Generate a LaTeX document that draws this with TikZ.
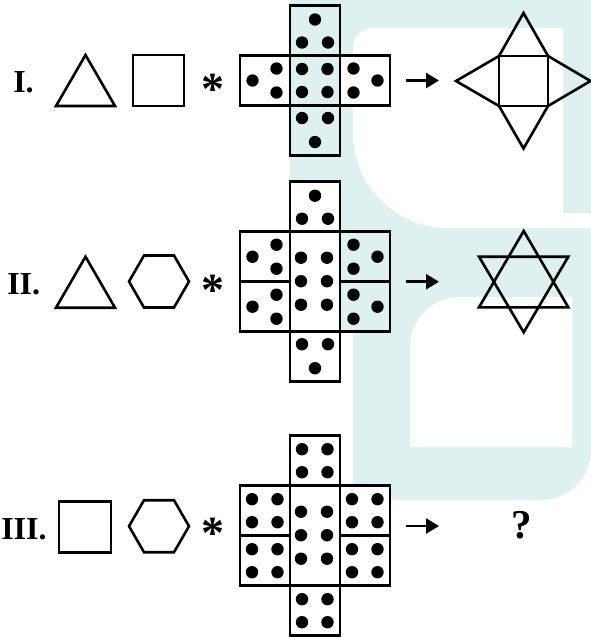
\documentclass[tikz,border=0pt]{standalone}
\usepackage{fontspec}
\setmainfont{Liberation Serif}
\usepackage{tikz}
\usetikzlibrary{arrows.meta,positioning,calc}
\definecolor{wmteal}{RGB}{223,240,240}
\newcommand{\dotsL}[1]{\foreach \dx/\dy in {12.5/25,36.5/13,36.5/37} \fill ($(#1.north west)+(\dx,\dy)$) circle (6.2pt);}
\newcommand{\dotsR}[1]{\foreach \dx/\dy in {13.5/13,13.5/37,37.5/25} \fill ($(#1.north west)+(\dx,\dy)$) circle (6.2pt);}
\newcommand{\dotsU}[1]{\foreach \dx/\dy in {25/14,12/37,38/37} \fill ($(#1.north west)+(\dx,\dy)$) circle (6.2pt);}
\newcommand{\dotsD}[1]{\foreach \dx/\dy in {12/12.5,38/12.5,25/36.5} \fill ($(#1.north west)+(\dx,\dy)$) circle (6.2pt);}
\newcommand{\dotsF}[1]{\foreach \dx/\dy in {12/13.5,37.5/13.5,12/36.5,37.5/36.5} \fill ($(#1.north west)+(\dx,\dy)$) circle (6.2pt);}
\newcommand{\dotsS}[1]{\foreach \dx/\dy in {11/26,37/26,11/49.5,37/49.5,11/73,37/73} \fill ($(#1.north west)+(\dx,\dy)$) circle (6.2pt);}

\begin{document}
\begin{tikzpicture}[x=1pt, y=-1pt, line width=2.6pt]
        \tikzstyle{cell}=[draw, fill=white, minimum size=50pt, inner sep=0pt, outer sep=0pt]
        \tikzstyle{tallcell}=[cell, minimum height=100pt]
        \tikzstyle{lbl}=[font=\fontsize{32}{36}\selectfont\bfseries, inner sep=0pt, anchor=west]
        \tikzstyle{oper}=[font=\fontsize{46}{50}\selectfont\bfseries, inner sep=0pt, anchor=base]
        \tikzstyle{tip}=[-{Triangle[length=13pt,width=15pt]}]
        \useasboundingbox (0,0) rectangle (590,638);
        % watermark
        \fill[wmteal] (290,0) -- (591,0) -- (591,450) arc[start angle=0, end angle=90, radius=50] -- (353,500) -- (353,232) -- (290,232) -- cycle;
        \fill[white] (563,28) -- (373,28) arc[start angle=270, end angle=180, radius=20] -- (353,133) arc[start angle=180, end angle=90, radius=95] -- (591,228) -- (591,213) -- (563,213) -- cycle;
        \fill[white] (410,447) -- (410,347) arc[start angle=180, end angle=270, radius=50] -- (572,297) -- (572,447) -- cycle;
        % row I
        \node[lbl] (n1) at (12,82.5) {I.};
        \draw (56,106) -- (85.5,55) -- (115,106) -- cycle;
        \draw (133,55) rectangle (184,106);
        \node[oper] (o1) at (212.5,104.3) {*};
        \node[cell, fill=wmteal]              (m1) at (315,80.5) {};
        \node[cell, fill=wmteal, above=0pt of m1] (t1) {};
        \node[cell, fill=wmteal, below=0pt of m1] (b1) {};
        \node[cell, left=0pt of m1]  (l1) {};
        \node[cell, right=0pt of m1] (r1) {};
        \dotsU{t1} \dotsF{m1} \dotsD{b1} \dotsL{l1} \dotsR{r1}
        \coordinate (a1) at (406,80.5);
        \coordinate (a1e) at (439,80.5);
        \draw[tip] (a1) -- (a1e);
        \draw (499,56) rectangle (548,106);
        \draw (499,56) -- (523.5,13) -- (548,56);
        \draw (499,56) -- (456,81) -- (499,106);
        \draw (548,56) -- (590.5,81) -- (548,106);
        \draw (499,106) -- (523.5,148.5) -- (548,106);
        % row II
        \node[lbl] (n2) at (6,284.5) {II.};
        \draw (56,307.7) -- (85.5,256.7) -- (115,307.7) -- cycle;
        \draw (189,281.5) -- (174,255.5) -- (144,255.5) -- (129,281.5) -- (144,307.5) -- (174,307.5) -- cycle;
        \node[oper] (o2) at (212.5,305.5) {*};
        \node[tallcell]              (m2) at (315,281.7) {};
        \node[cell, above=0pt of m2] (t2) {};
        \node[cell, below=0pt of m2] (b2) {};
        \node[cell, anchor=north east] (lu2) at (m2.north west) {};
        \node[cell, anchor=south east] (ll2) at (m2.south west) {};
        \node[cell, fill=wmteal, anchor=north west] (ru2) at (m2.north east) {};
        \node[cell, fill=wmteal, anchor=south west] (rl2) at (m2.south east) {};
        \dotsU{t2} \dotsS{m2} \dotsD{b2} \dotsL{lu2} \dotsL{ll2} \dotsR{ru2} \dotsR{rl2}
        \coordinate (a2) at (406,281.7);
        \coordinate (a2e) at (439,281.7);
        \draw[tip] (a2) -- (a2e);
        \draw (479,307.3) -- (523.7,231) -- (568.3,307.3) -- cycle;
        \draw (479,256.7) -- (523.7,332.3) -- (568.3,256.7) -- cycle;
        % row III
        \node[lbl] (n3) at (0,529) {III.};
        \draw (59,501.7) rectangle (111,552.7);
        \draw (189,526.2) -- (174,500.2) -- (144,500.2) -- (129,526.2) -- (144,552.2) -- (174,552.2) -- cycle;
        \node[oper] (o3) at (212.5,548.8) {*};
        \node[tallcell]              (m3) at (315,535.7) {};
        \node[cell, above=0pt of m3] (t3) {};
        \node[cell, below=0pt of m3] (b3) {};
        \node[cell, anchor=north east] (lu3) at (m3.north west) {};
        \node[cell, anchor=south east] (ll3) at (m3.south west) {};
        \node[cell, anchor=north west] (ru3) at (m3.north east) {};
        \node[cell, anchor=south west] (rl3) at (m3.south east) {};
        \dotsF{t3} \dotsS{m3} \dotsF{b3} \dotsF{lu3} \dotsF{ll3} \dotsF{ru3} \dotsF{rl3}
        \coordinate (a3) at (406,526);
        \coordinate (a3e) at (439,526);
        \draw[tip] (a3) -- (a3e);
        \node[font=\fontsize{41}{44}\selectfont\bfseries, inner sep=0pt] (q3) at (521.5,525.3) {?};
\end{tikzpicture}
\end{document}
